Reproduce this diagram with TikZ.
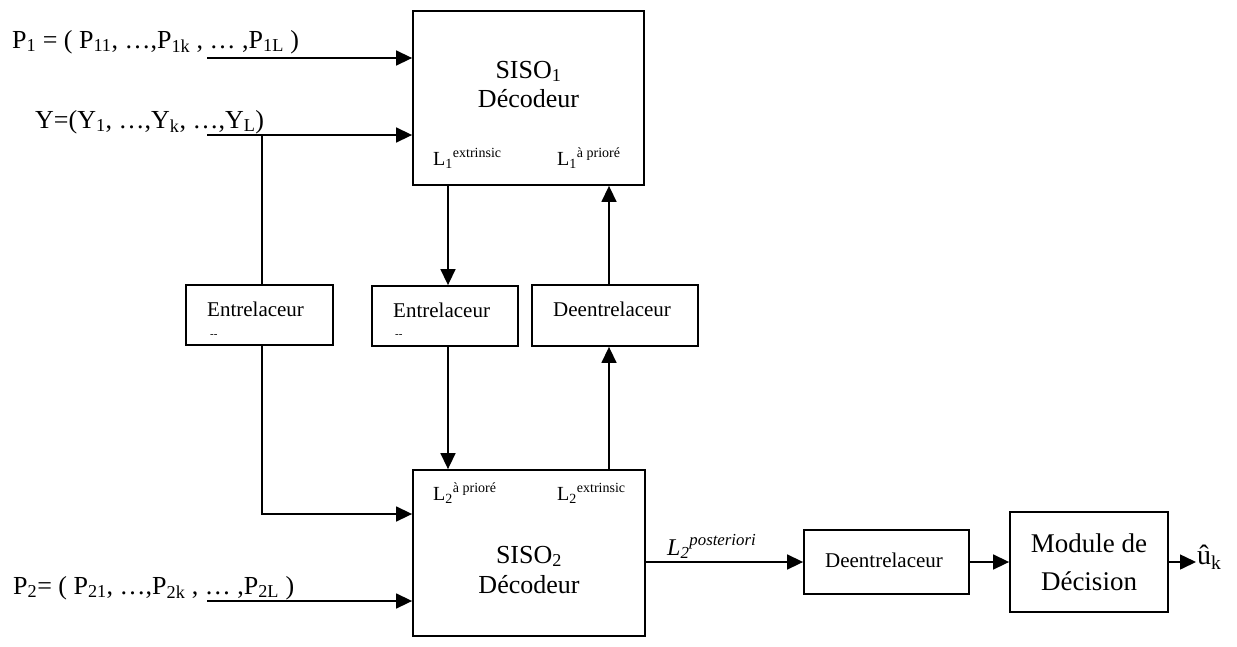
\documentclass[tikz,border=0pt]{standalone}
\usepackage{fontspec}
\setmainfont{Liberation Serif}
\usetikzlibrary{arrows.meta}
\newcommand\fsz[1]{\fontsize{#1}{#1}\selectfont}

\begin{document}
\begin{tikzpicture}[x=1pt,y=-1pt,
  blk/.style={draw,line width=1.8pt,inner sep=0pt},
  wire/.style={line width=1.5pt},
  arr/.style={wire,-{Triangle[length=16pt,width=15pt]}},
  txt/.style={inner sep=0pt,anchor=base},
  txtw/.style={inner sep=0pt,anchor=base west},
  big/.style={font=\fsz{26}},
  mid/.style={font=\fsz{21}},
  lab/.style={font=\fsz{20}},
  tiny/.style={font=\fsz{11}}]
\useasboundingbox (0,0) rectangle (1237,646);

% blocks
\node[blk,minimum width=231pt,minimum height=174pt] (siso1) at (528.5,98) {};
\node[blk,minimum width=232pt,minimum height=166pt] (siso2) at (529,553) {};
\node[blk,minimum width=147pt,minimum height=60pt] (ent1) at (259.5,315) {};
\node[blk,minimum width=146pt,minimum height=60pt] (ent2) at (445,316) {};
\node[blk,minimum width=166pt,minimum height=61pt] (dent1) at (615,315.5) {};
\node[blk,minimum width=165pt,minimum height=64pt] (dent2) at (886.5,562) {};
\node[blk,minimum width=158pt,minimum height=100pt] (dec) at (1089,562) {};

% block texts
\node[txt,big] (s1a) at (528.5,78) {SISO\textsubscript{1}};
\node[txt,big] (s1b) at (528.5,107) {Décodeur};
\node[txt,big] (s2a) at (529,563) {SISO\textsubscript{2}};
\node[txt,big] (s2b) at (529,593) {Décodeur};
\node[txtw,lab] (l1e) at (433,165) {L\textsubscript{1}\textsuperscript{extrinsic}};
\node[txtw,lab] (l1a) at (557,165) {L\textsubscript{1}\textsuperscript{à prioré}};
\node[txtw,lab] (l2a) at (433,500) {L\textsubscript{2}\textsuperscript{à prioré}};
\node[txtw,lab] (l2e) at (557,500) {L\textsubscript{2}\textsuperscript{extrinsic}};
\node[txtw,mid] (e1t) at (207,316) {Entrelaceur};
\node[txtw,tiny] (e1d) at (210,337) {-{}-};
\node[txtw,mid] (e2t) at (393,317) {Entrelaceur};
\node[txtw,tiny] (e2d) at (395,337) {-{}-};
\node[txtw,mid] (d1t) at (553,316) {Deentrelaceur};
\node[txt,mid] (d2t) at (884,567) {Deentrelaceur};
\node[txt,font=\fsz{27}] (m1) at (1089,552) {Module de};
\node[txt,font=\fsz{27}] (m2) at (1089,590) {Décision};

% input sequences
\node[txtw,big] (p1) at (12,48) {P\textsubscript{1} = ( P\textsubscript{11}, …,P\textsubscript{1k} , … ,P\textsubscript{1L} )};
\node[txtw,big] (yy) at (35,128) {Y=(Y\textsubscript{1}, …,Y\textsubscript{k}, …,Y\textsubscript{L})};
\node[txtw,big] (p2) at (13,594) {P\textsubscript{2}= ( P\textsubscript{21}, …,P\textsubscript{2k} , … ,P\textsubscript{2L} )};

% wire anchor points
\coordinate (p1s) at (207,58);
\coordinate (ys) at (207,135);
\coordinate (p2s) at (207,601);
\coordinate (yb) at (262,135);
\coordinate (ybend) at (262,514);
\coordinate (xa) at (448,0);
\coordinate (xb) at (609,0);
\coordinate (yo) at (0,562);
\coordinate (uk) at (1196,562);

% inputs
\draw[arr] (p1s) -- (p1s -| siso1.west);
\draw[arr] (ys) -- (ys -| siso1.west);
\draw[arr] (p2s) -- (p2s -| siso2.west);

% systematic branch through the first interleaver
\draw[wire] (yb) -- (yb |- ent1.north);
\draw[arr] (yb |- ent1.south) -- (ybend) -- (ybend -| siso2.west);

% iterative loop
\draw[arr] (siso1.south -| xa) -- (ent2.north -| xa);
\draw[arr] (ent2.south -| xa) -- (siso2.north -| xa);
\draw[arr] (siso2.north -| xb) -- (dent1.south -| xb);
\draw[arr] (dent1.north -| xb) -- (siso1.south -| xb);

% output chain
\draw[arr] (siso2.east |- yo) -- (dent2.west |- yo);
\node[txtw,font=\fsz{24}\itshape] (l2p) at (667,555) {L\textsubscript{2}\textsuperscript{posteriori}};
\draw[arr] (dent2.east |- yo) -- (dec.west |- yo);
\draw[arr] (dec.east |- yo) -- (uk);
\node[txtw,font=\fsz{28}] (ukt) at (1197,564) {û\textsubscript{k}};
\end{tikzpicture}
\end{document}
